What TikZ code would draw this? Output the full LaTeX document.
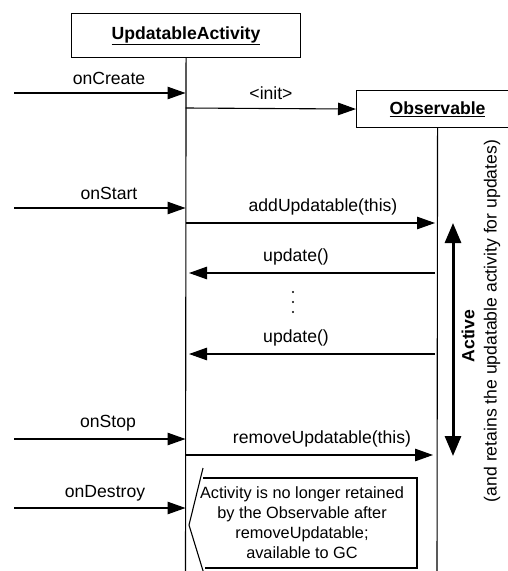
\documentclass[tikz,border=0pt]{standalone}
\usepackage{fontspec}
\setmainfont{Liberation Sans}
\usetikzlibrary{arrows.meta}
\begin{document}
\begin{tikzpicture}[x=1bp,y=-1bp, line width=1.1bp,
  lbl/.style={font=\fontsize{17.6bp}{21bp}\selectfont, inner sep=0pt},
  notetxt/.style={font=\fontsize{16.3bp}{20bp}\selectfont, inner sep=0pt, align=center},
  objbox/.style={draw, anchor=north west, inner sep=0pt, font=\fontsize{17.6bp}{21bp}\selectfont\bfseries},
  msg/.style={-{Triangle[length=18bp,width=12.5bp]}},
  dblarrow/.style={line width=3bp, {Triangle[length=20bp,width=16bp]}-{Triangle[length=20bp,width=16bp]}}]
\useasboundingbox (0,0) rectangle (508,571);

% objects
\node[objbox, minimum width=229bp, minimum height=44bp] (ua) at (71,13) {\underline{UpdatableActivity}};
\node[objbox, minimum width=162bp, minimum height=37bp] (obs) at (356,90) {\underline{Observable}};

% lifelines
\coordinate (uaend) at (185.5,575);
\coordinate (obsend) at (437,575);
\draw (ua.south) -- (uaend);
\draw (obs.south) -- (obsend);

% coordinates
\coordinate (s1) at (14,93);   \coordinate (u1) at (185.5,93);
\coordinate (u2) at (185.5,108);
\coordinate (s3) at (14,208);  \coordinate (u3) at (185.5,208);
\coordinate (u4) at (185.5,223); \coordinate (o4) at (435,223);
\coordinate (o5) at (435,273); \coordinate (u5) at (189,273);
\coordinate (o6) at (435,354); \coordinate (u6) at (189,354);
\coordinate (s7) at (14,439);  \coordinate (u7) at (185.5,439);
\coordinate (u8) at (185.5,455); \coordinate (o8) at (433,455);
\coordinate (s9) at (14,508);  \coordinate (u9) at (185.5,508);
\coordinate (atop) at (453,223); \coordinate (abot) at (453,456);

% messages
\draw[msg] (s1) -- (u1);
\draw[msg] (u2) -- (obs.west);
\draw[msg] (s3) -- (u3);
\draw[msg] (u4) -- (o4);
\draw[msg] (o5) -- (u5);
\draw[msg] (o6) -- (u6);
\draw[msg] (s7) -- (u7);
\draw[msg] (u8) -- (o8);
\draw[msg] (s9) -- (u9);

% labels
\node[lbl] (l1) at (109,78) {onCreate};
\node[lbl] (l2) at (271,93) {<init>};
\node[lbl] (l3) at (109,193) {onStart};
\node[lbl] (l4) at (323,207) {addUpdatable(this)};
\node[lbl] (l5) at (296,257) {update()};
\node[lbl] (l6) at (296,338) {update()};
\node[lbl] (l7) at (108,423) {onStop};
\node[lbl] (l8) at (322,439) {removeUpdatable(this)};
\node[lbl] (l9) at (105,493) {onDestroy};

% dots
\fill (293,292) circle[radius=1.2bp];
\fill (293,302) circle[radius=1.2bp];
\fill (293,312) circle[radius=1.2bp];

% active double arrow
\draw[dblarrow] (atop) -- (abot);
\node[lbl, rotate=90] (act) at (468,336) {\textbf{Active}};
\node[lbl, rotate=90] (ret) at (492,321) {(and retains the updatable activity for updates)};

% note
\draw (203,468) -- (189,525) -- (204,574);
\draw (203,478) -- (417,478) -- (417,568) -- (205,568);
\node[notetxt] (note) at (302,523) {Activity is no longer retained\\by the Observable after\\removeUpdatable;\\available to GC};
\end{tikzpicture}
\end{document}
